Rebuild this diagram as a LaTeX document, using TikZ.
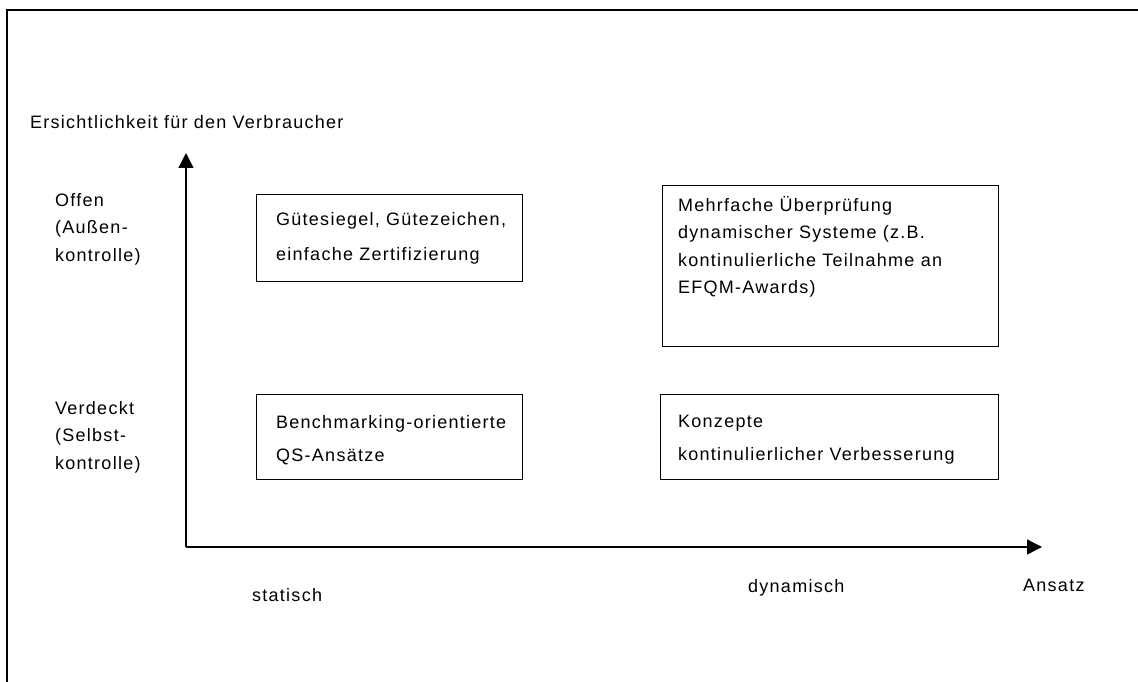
\documentclass[tikz,border=0pt]{standalone}
\usepackage{fontspec}
\setmainfont{Liberation Sans}[LetterSpace=7]
\usetikzlibrary{arrows.meta}
\begin{document}
\begin{tikzpicture}[x=1pt,y=-1pt,
  lbl/.style={anchor=north west,inner sep=0pt,align=left,font=\fontsize{18}{27.5}\selectfont},
  wide/.style={font=\fontsize{18}{35}\selectfont},
  mid/.style={font=\fontsize{18}{33}\selectfont},
  qbox/.style={draw,line width=1.4pt,anchor=north west,inner sep=0pt},
  axis/.style={line width=1.4pt,-{Triangle[length=15pt,width=15pt]}}]
\useasboundingbox (0,0) rectangle (1138,682);
\draw[line width=2pt] (7,690) -- (7,10) -- (1145,10);
% axes
\coordinate (o) at (186,547);
\coordinate (ytop) at (186,153);
\coordinate (xend) at (1042,547);
\draw[axis] (o) -- (ytop);
\draw[axis] (o) -- (xend);
% title and row labels
\node[lbl] (title) at (30,115) {Ersichtlichkeit für den Verbraucher};
\node[lbl] (offen) at (55,193) {Offen\\(Außen-\\kontrolle)};
\node[lbl] (verd) at (55,401) {Verdeckt\\(Selbst-\\kontrolle)};
% boxes
\node[qbox,minimum width=266pt,minimum height=87pt] (b1) at (256,194) {};
\node[qbox,minimum width=336pt,minimum height=161pt] (b2) at (662,185) {};
\node[qbox,minimum width=266pt,minimum height=85pt] (b3) at (256,394) {};
\node[qbox,minimum width=338pt,minimum height=85pt] (b4) at (660,394) {};
\node[lbl,wide] (t1) at (276,212) {Gütesiegel, Gütezeichen,\\einfache Zertifizierung};
\node[lbl] (t2) at (678,196) {Mehrfache Überprüfung\\dynamischer Systeme (z.B.\\kontinulierliche Teilnahme an\\EFQM-Awards)};
\node[lbl,mid] (t3) at (276,415) {Benchmarking-orientierte\\QS-Ansätze};
\node[lbl,mid] (t4) at (678,415) {Konzepte\\kontinulierlicher Verbesserung};
% x labels
\node[lbl] (stat) at (252,588) {statisch};
\node[lbl] (dyn) at (748,579) {dynamisch};
\node[lbl] (ans) at (1023,579) {Ansatz};
\end{tikzpicture}
\end{document}
